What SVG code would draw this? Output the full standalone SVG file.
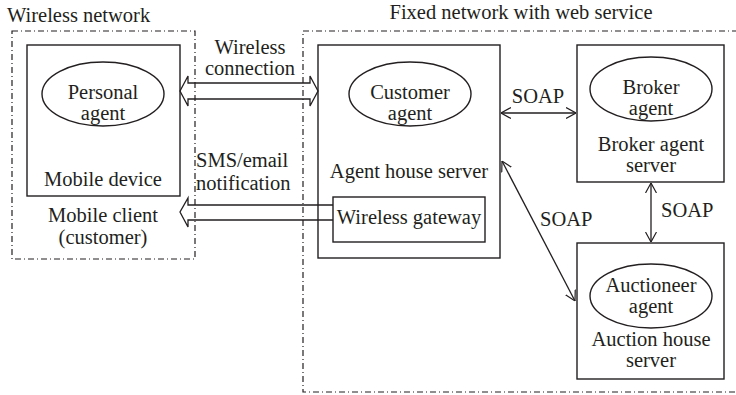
<svg xmlns="http://www.w3.org/2000/svg" width="736" height="395" viewBox="0 0 736 395">
<defs>
<style>
text{font-family:"Liberation Serif","Times New Roman",serif;font-size:20.5px;fill:#231f20}
.c{text-anchor:middle}
.box{fill:none;stroke:#231f20;stroke-width:1.4}
.zone{fill:none;stroke:#231f20;stroke-width:1.2;stroke-dasharray:6 3 1 3}
.ln{fill:none;stroke:#231f20;stroke-width:1.3}
</style>
<marker id="v" viewBox="0 0 10 12" refX="10" refY="6" markerWidth="10" markerHeight="12" markerUnits="userSpaceOnUse" orient="auto-start-reverse">
<path d="M0,0.5 L10,6 L0,11.5" fill="none" stroke="#231f20" stroke-width="1.2"/>
</marker>
</defs>
<rect width="736" height="395" fill="#fff"/>
<g id="zones">
<rect class="zone" x="12" y="31" width="183" height="228"/>
<text x="7" y="22">Wireless network</text>
<rect class="zone" x="303" y="31" width="445" height="361"/>
<text class="c" x="521" y="19">Fixed network with web service</text>
</g>
<g id="mobile">
<rect class="box" x="27" y="45" width="153" height="151"/>
<ellipse class="box" cx="103" cy="94" rx="61" ry="32"/>
<text class="c" x="103" y="99">Personal</text>
<text class="c" x="103" y="120">agent</text>
<text class="c" x="103" y="186">Mobile device</text>
<text class="c" x="103" y="222">Mobile client</text>
<text class="c" x="103" y="244">(customer)</text>
</g>
<g id="agenthouse">
<rect class="box" x="318" y="45" width="182" height="213"/>
<ellipse class="box" cx="410" cy="94" rx="61" ry="32"/>
<text class="c" x="410" y="99">Customer</text>
<text class="c" x="410" y="120">agent</text>
<text class="c" x="409" y="178">Agent house server</text>
</g>
<g id="gateway">
<rect class="box" x="333" y="197" width="152" height="45"/>
<text class="c" x="409" y="224">Wireless gateway</text>
</g>
<g id="broker">
<rect class="box" x="577" y="45" width="147" height="137"/>
<ellipse class="box" cx="651" cy="89" rx="61" ry="32"/>
<text class="c" x="651" y="94">Broker</text>
<text class="c" x="651" y="115">agent</text>
<text class="c" x="651" y="151">Broker agent</text>
<text class="c" x="651" y="172">server</text>
</g>
<g id="auction">
<rect class="box" x="577" y="243" width="147" height="136"/>
<ellipse class="box" cx="651" cy="296" rx="61" ry="32"/>
<text class="c" x="651" y="292">Auctioneer</text>
<text class="c" x="651" y="313">agent</text>
<text class="c" x="651" y="346">Auction house</text>
<text class="c" x="651" y="367">server</text>
</g>
<g id="connectors">
<path class="ln" d="M180,91 L188,76 L188,83 L310,83 L310,76 L318,91 L310,106 L310,99 L188,99 L188,106 Z" fill="#fff"/>
<text class="c" x="250" y="54">Wireless</text>
<text class="c" x="250" y="75">connection</text>
<path class="ln" d="M333,205 L188,205 L188,198 L180,212 L188,227 L188,220 L333,220"/>
<text x="196" y="167">SMS/email</text>
<text x="196" y="190">notification</text>
<line class="ln" x1="501" y1="113" x2="576" y2="113" marker-start="url(#v)" marker-end="url(#v)"/>
<text class="c" x="538" y="103">SOAP</text>
<line class="ln" x1="651" y1="183" x2="651" y2="242" marker-start="url(#v)" marker-end="url(#v)"/>
<text x="661" y="217">SOAP</text>
<line class="ln" x1="502" y1="161" x2="575" y2="301" marker-start="url(#v)" marker-end="url(#v)"/>
<text x="540" y="226">SOAP</text>
</g>
</svg>
